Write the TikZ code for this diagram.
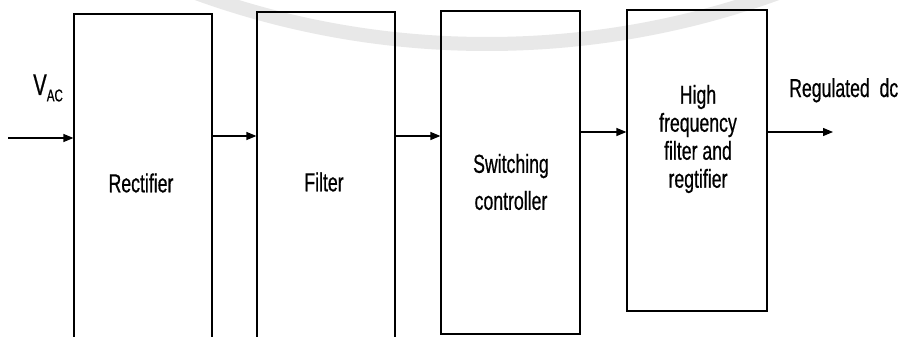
\documentclass[tikz,border=0pt]{standalone}
\usepackage{fontspec}
\setmainfont{Liberation Sans}[FakeStretch=0.68,FakeBold=0.6]
\usetikzlibrary{arrows.meta}
\tikzset{
  blk/.style={draw=black, line width=1.2pt, rectangle, inner sep=0pt},
  lbl/.style={font=\fontsize{26}{30}\selectfont, align=center, inner sep=0pt},
  arr/.style={line width=1.2pt, -{Triangle[length=10pt,width=8pt]}},
  wm/.style={draw=black!9, line width=14pt}
}
\begin{document}
\begin{tikzpicture}[x=1pt,y=-1pt]
\clip (0,0) rectangle (910,337);
\fill[white] (0,0) rectangle (910,337);
% watermark arc
\draw[wm] (487,-808) circle (852);
% blocks
\node[blk, minimum width=138pt, minimum height=331pt] (rect) at (143,179.5) {};
\node[blk, minimum width=138pt, minimum height=333pt] (filt) at (326,178.5) {};
\node[blk, minimum width=139pt, minimum height=323pt] (swc) at (510.5,172.5) {};
\node[blk, minimum width=140pt, minimum height=301pt] (hff) at (697,160.5) {};
% labels
\node[lbl] (trect) at (141,183) {Rectifier};
\node[lbl] (tfilt) at (324,182) {Filter};
\node[lbl, font=\fontsize{26}{37}\selectfont] (tswc) at (511,182) {Switching\\controller};
\node[lbl, font=\fontsize{26}{28}\selectfont] (thff) at (698,139) {High\\frequency\\filter and\\regtifier};
\node[lbl, anchor=base west] (vac) at (33,95) {\fontsize{30}{30}\selectfont V\raisebox{-0.4ex}{\fontsize{17}{17}\selectfont AC}};
\node[lbl, anchor=base west] (reg) at (789,97) {Regulated\ \ dc};
% connectors
\coordinate (in) at (8,138);
\coordinate (out) at (833,132);
\draw[arr] (in) -- (rect.west |- in);
\draw[arr] (rect.east |- 0,136) -- (filt.west |- 0,136);
\draw[arr] (filt.east |- 0,136) -- (swc.west |- 0,136);
\draw[arr] (swc.east |- 0,132) -- (hff.west |- 0,132);
\draw[arr] (hff.east |- out) -- (out);
\end{tikzpicture}
\end{document}
